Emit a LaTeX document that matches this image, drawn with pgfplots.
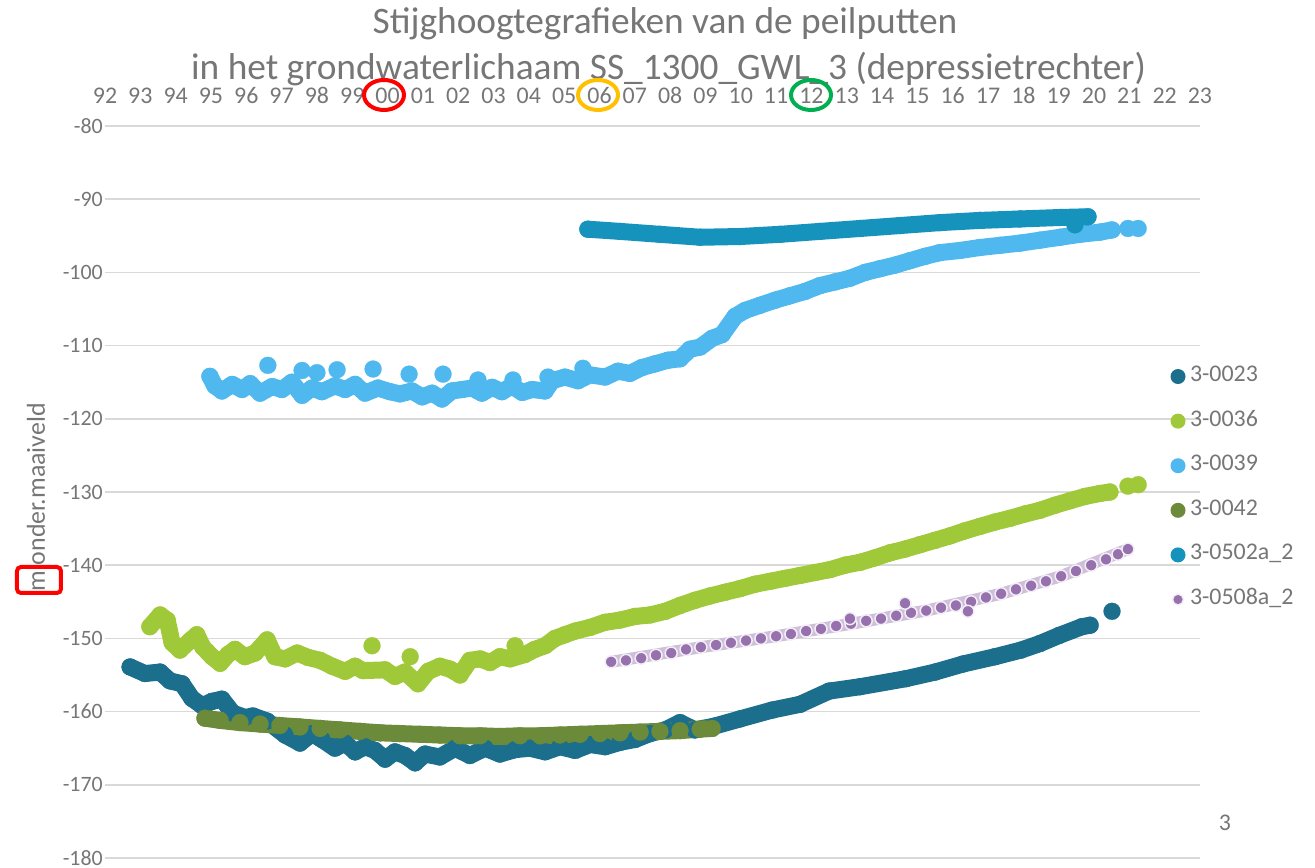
\documentclass[border=0pt]{standalone}
\usepackage{pgfplots}
\pgfplotsset{compat=1.18}
\usepackage{fontspec}
\setmainfont{Carlito}
\definecolor{c1}{HTML}{1B6E8C}
\definecolor{c2}{HTML}{A0C93A}
\definecolor{c3}{HTML}{4FB8EE}
\definecolor{c4}{HTML}{6B8B3B}
\definecolor{c5}{HTML}{1593BD}
\definecolor{c6}{HTML}{9671AD}
\definecolor{txt}{HTML}{767676}
\definecolor{gridc}{HTML}{D9D9D9}
\definecolor{mkorange}{HTML}{FFC000}
\definecolor{mkgreen}{HTML}{00B050}
\pgfplotsset{
  band/.style={draw=#1, line width=17bp, line join=round, line cap=round, mark=*, mark size=8.5bp,
    mark options={solid, draw=#1, fill=#1, line width=0.2bp},
    legend image code/.code={\path[fill=#1, draw=none] (0bp,0bp) circle (7.5bp);}},
  dots/.style={#1, only marks, mark=*, mark size=8.5bp, mark options={solid, draw=#1, fill=#1, line width=0.2bp}, forget plot},
}
\begin{document}
\begin{tikzpicture}
\begin{axis}[
  at={(0,0)}, anchor=south west,
  scale only axis, width=1095bp, height=732bp,
  xmin=1992, xmax=2023, ymin=-180, ymax=-80,
  axis line style={draw=none},
  major tick length=0pt,
  xtick={1992,1993,1994,1995,1996,1997,1998,1999,2000,2001,2002,2003,2004,2005,2006,2007,2008,2009,2010,2011,2012,2013,2014,2015,2016,2017,2018,2019,2020,2021,2022,2023},
  xticklabels={92,93,94,95,96,97,98,99,00,01,02,03,04,05,06,07,08,09,10,11,12,13,14,15,16,17,18,19,20,21,22,23},
  xticklabel pos=top,
  xticklabel style={font=\fontsize{24}{28}\selectfont, text=txt, anchor=base, yshift=22.7bp, inner sep=0pt},
  ytick={-180,-170,-160,-150,-140,-130,-120,-110,-100,-90,-80},
  yticklabels={-180,-170,-160,-150,-140,-130,-120,-110,-100,-90,-80},
  yticklabel style={font=\fontsize{22}{26}\selectfont, text=txt, anchor=east, inner sep=0pt, xshift=-2bp},
  ymajorgrids, grid style={draw=gridc, line width=1.5bp},
  clip=false,
  legend cell align=left,
  legend style={
    at={(axis description cs:0.9731,0.6721)}, anchor=north west,
    draw=none, fill=none, inner sep=0pt, outer sep=0pt,
    font=\fontsize{24}{28}\selectfont, text=txt,
    row sep=23.6bp,
    nodes={inner sep=0pt, text height=15.5bp, text depth=5.5bp},
    /tikz/every odd column/.append style={column sep=4.5bp},
  },
]
% 3-0023
\addplot[band=c1] coordinates {
(1992.71,-153.9) (1993.13,-154.8) (1993.56,-154.6) (1993.84,-155.8) (1994.18,-156.2)
(1994.46,-158.2) (1994.75,-159.2) (1995.03,-158.6) (1995.31,-158.3) (1995.62,-160.2)
(1995.96,-160.8) (1996.19,-160.6) (1996.59,-161.3) (1997.10,-163.2) (1997.52,-164.3)
(1997.86,-163.0) (1998.14,-163.8) (1998.51,-165.0) (1998.80,-164.3) (1999.08,-165.5)
(1999.36,-164.8) (1999.64,-165.3) (1999.93,-166.5) (2000.21,-165.5) (2000.49,-166.0)
(2000.78,-167.0) (2001.06,-165.8) (2001.48,-166.2) (2001.91,-165.0) (2002.33,-166.0)
(2002.76,-165.0) (2003.18,-165.8) (2003.61,-165.2) (2004.03,-165.0) (2004.46,-165.5)
(2004.88,-164.8) (2005.31,-165.3) (2005.73,-164.5) (2006.16,-164.8) (2006.58,-164.2)
(2007.01,-163.8) (2007.43,-163.0) (2007.86,-162.5) (2008.28,-161.5) (2008.70,-162.5)
(2009.24,-162.0) (2009.98,-161.0) (2010.88,-159.8) (2011.68,-159.0) (2012.50,-157.2)
(2013.38,-156.6) (2014.68,-155.5) (2015.50,-154.6) (2016.29,-153.5) (2017.20,-152.5)
(2017.93,-151.6) (2018.47,-150.7) (2019.01,-149.6) (2019.66,-148.4) (2019.89,-148.2)
};
\addlegendentry{3-0023}
\addplot[dots=c1] coordinates {(2020.51,-146.3)};
% 3-0036
\addplot[band=c2] coordinates {
(1993.27,-148.4) (1993.56,-146.8) (1993.76,-147.5) (1993.90,-150.6) (1994.12,-151.6)
(1994.41,-150.3) (1994.60,-149.5) (1994.77,-151.2) (1995.03,-152.5) (1995.26,-153.4)
(1995.48,-152.2) (1995.68,-151.5) (1995.96,-152.5) (1996.25,-152.0) (1996.59,-150.2)
(1996.81,-152.5) (1997.10,-152.8) (1997.44,-152.0) (1997.75,-152.6) (1998.09,-153.0)
(1998.43,-153.8) (1998.80,-154.5) (1999.08,-153.8) (1999.30,-154.4) (1999.93,-154.3)
(2000.21,-155.2) (2000.49,-154.6) (2000.86,-156.2) (2001.15,-154.5) (2001.48,-153.8)
(2001.77,-154.2) (2002.05,-155.0) (2002.33,-153.0) (2002.62,-152.8) (2002.90,-153.3)
(2003.18,-152.5) (2003.47,-152.8) (2003.89,-152.2) (2004.17,-151.5) (2004.46,-151.0)
(2004.74,-150.0) (2005.02,-149.5) (2005.31,-149.0) (2005.73,-148.5) (2006.16,-147.8)
(2006.58,-147.5) (2007.01,-147.0) (2007.43,-146.8) (2007.86,-146.3) (2008.28,-145.5)
(2008.70,-144.8) (2009.13,-144.2) (2009.55,-143.7) (2009.98,-143.2) (2010.40,-142.6)
(2010.83,-142.2) (2011.25,-141.8) (2011.68,-141.4) (2012.10,-141.0) (2012.53,-140.6)
(2012.95,-140.0) (2013.38,-139.6) (2013.80,-139.0) (2014.23,-138.3) (2014.65,-137.8)
(2015.07,-137.2) (2015.50,-136.6) (2015.92,-136.0) (2016.35,-135.3) (2016.77,-134.7)
(2017.20,-134.1) (2017.62,-133.6) (2018.05,-133.0) (2018.47,-132.5) (2018.90,-131.8)
(2019.32,-131.2) (2019.75,-130.6) (2020.17,-130.2) (2020.45,-130.0)
};
\addlegendentry{3-0036}
\addplot[dots=c2] coordinates {
(1999.56,-151.0) (2000.64,-152.5) (2003.61,-151.0) (2020.96,-129.2) (2021.25,-129.0)};
% 3-0039
\addplot[band=c3] coordinates {
(1994.97,-114.2) (1995.11,-115.5) (1995.31,-116.2) (1995.60,-115.3) (1995.88,-116.0)
(1996.11,-115.2) (1996.39,-116.5) (1996.73,-115.6) (1997.01,-116.0) (1997.29,-115.0)
(1997.58,-116.8) (1997.86,-115.8) (1998.14,-116.3) (1998.51,-115.5) (1998.80,-116.0)
(1999.08,-115.3) (1999.36,-116.5) (1999.73,-115.8) (2000.07,-116.3) (2000.35,-116.6)
(2000.69,-116.2) (2000.98,-117.0) (2001.26,-116.5) (2001.54,-117.3) (2001.82,-116.2)
(2002.11,-116.0) (2002.39,-115.8) (2002.67,-116.5) (2002.96,-115.7) (2003.24,-116.3)
(2003.52,-115.5) (2003.81,-116.4) (2004.09,-116.0) (2004.46,-116.2) (2004.66,-114.8)
(2005.02,-114.3) (2005.39,-114.8) (2005.73,-114.0) (2006.16,-114.3) (2006.52,-113.5)
(2006.86,-113.8) (2007.20,-113.0) (2007.57,-112.5) (2007.94,-112.0) (2008.28,-111.8)
(2008.56,-110.5) (2008.85,-110.2) (2009.19,-109.0) (2009.47,-108.5) (2009.84,-106.0)
(2010.12,-105.2) (2010.54,-104.5) (2010.97,-103.8) (2011.39,-103.2) (2011.82,-102.6)
(2012.24,-101.8) (2012.67,-101.3) (2013.09,-100.8) (2013.52,-100.0) (2013.94,-99.5)
(2014.37,-99.0) (2014.79,-98.4) (2015.22,-97.8) (2015.64,-97.3) (2016.21,-97.0)
(2016.77,-96.6) (2017.34,-96.3) (2017.91,-96.0) (2018.47,-95.6) (2019.04,-95.2)
(2019.60,-94.8) (2020.17,-94.5) (2020.51,-94.2)
};
\addlegendentry{3-0039}
\addplot[dots=c3] coordinates {
(1996.61,-112.7) (1997.58,-113.4) (1998.00,-113.7) (1998.57,-113.3) (1999.59,-113.2)
(2000.61,-113.9) (2001.57,-113.9) (2002.56,-114.7) (2003.55,-114.7) (2004.54,-114.3)
(2005.53,-113.1) (2020.96,-94.0) (2021.25,-94.0)};
% 3-0042
\addplot[band=c4] coordinates {
(1994.83,-160.9) (1995.26,-161.2) (1995.82,-161.5) (1996.39,-161.7) (1996.95,-161.9)
(1997.52,-162.1) (1998.09,-162.3) (1998.65,-162.5) (1999.22,-162.7) (1999.79,-162.9)
(2000.35,-163.0) (2000.92,-163.1) (2001.48,-163.2) (2002.05,-163.3) (2002.62,-163.3)
(2003.18,-163.4) (2003.75,-163.3) (2004.32,-163.3) (2004.88,-163.2) (2005.45,-163.1)
(2006.01,-163.0) (2006.58,-162.9) (2007.15,-162.8) (2007.71,-162.7) (2008.28,-162.6)
(2008.85,-162.4) (2009.19,-162.3)
};
\addlegendentry{3-0042}
% 3-0502a_2
\addplot[band=c5] coordinates {
(2005.67,-94.1) (2006.58,-94.4) (2007.71,-94.8) (2008.85,-95.2) (2009.98,-95.1)
(2011.11,-94.8) (2012.24,-94.4) (2013.38,-94.0) (2014.51,-93.6) (2015.64,-93.2)
(2016.77,-92.9) (2017.91,-92.7) (2019.04,-92.5) (2019.83,-92.4)
};
\addlegendentry{3-0502a\_2}
\addplot[dots=c5] coordinates {(2019.46,-93.5)};
% 3-0508a_2
\addplot[draw=c6!45!white, line width=12bp, line join=round, line cap=round, forget plot] coordinates {
(2006.33,-153.2) (2008.87,-151.2) (2011.00,-149.7) (2013.12,-148.0) (2015.25,-146.2)
(2017.37,-143.9) (2019.07,-141.5) (2020.96,-137.8)};
\addplot[only marks, mark=*, mark size=6bp, mark options={solid, fill=c6, draw=c6!12!white, line width=1.5bp},
  legend image code/.code={\path[fill=c6, draw=c6!12!white, line width=1.5bp] (0bp,0bp) circle (5.5bp);}] coordinates {
(2006.33,-153.2) (2006.75,-153.0) (2007.18,-152.7) (2007.60,-152.3) (2008.03,-152.0)
(2008.45,-151.5) (2008.87,-151.2) (2009.30,-150.9) (2009.72,-150.6) (2010.15,-150.3)
(2010.57,-150.0) (2011.00,-149.7) (2011.42,-149.4) (2011.85,-149.0) (2012.27,-148.7)
(2012.70,-148.3) (2013.12,-148.0) (2013.55,-147.6) (2013.97,-147.3) (2014.40,-146.9)
(2014.82,-146.5) (2015.25,-146.2) (2015.67,-145.8) (2016.09,-145.5) (2016.52,-145.0)
(2016.94,-144.4) (2017.37,-143.9) (2017.79,-143.3) (2018.22,-142.8) (2018.64,-142.2)
(2019.07,-141.5) (2019.49,-140.8) (2019.92,-140.0) (2020.34,-139.2) (2020.68,-138.5)
(2020.96,-137.8) (2013.09,-147.3) (2014.65,-145.2) (2016.43,-146.3)
};
\addlegendentry{3-0508a\_2}
\end{axis}
\node[anchor=base, inner sep=0pt, font=\fontsize{37.5}{42}\selectfont, text=txt] at (560bp,824bp) {Stijghoogtegrafieken van de peilputten};
\node[anchor=base, inner sep=0pt, font=\fontsize{37.5}{42}\selectfont, text=txt] at (563.5bp,778bp) {in het grondwaterlichaam SS\_1300\_GWL\_3 (depressietrechter)};
\node[rotate=90, anchor=base west, inner sep=0pt, font=\fontsize{26}{30}\selectfont, text=txt] at (-60bp,266bp) {m onder.maaiveld};
\draw[red, line width=4bp, rounded corners=4bp] (-88bp,265bp) rectangle (-44bp,291bp);
\draw[red, line width=4bp] (279bp,763bp) ellipse [x radius=20bp, y radius=15bp];
\draw[mkorange, line width=4bp] (493bp,763bp) ellipse [x radius=20bp, y radius=15bp];
\draw[mkgreen, line width=4bp] (706bp,763bp) ellipse [x radius=20bp, y radius=15bp];
\node[inner sep=0pt, font=\fontsize{24}{28}\selectfont, text=txt] at (1120bp,35bp) {3};
\pgfresetboundingbox
\path[use as bounding box] (-105bp,-10bp) rectangle (1210bp,858bp);
\end{tikzpicture}
\end{document}
